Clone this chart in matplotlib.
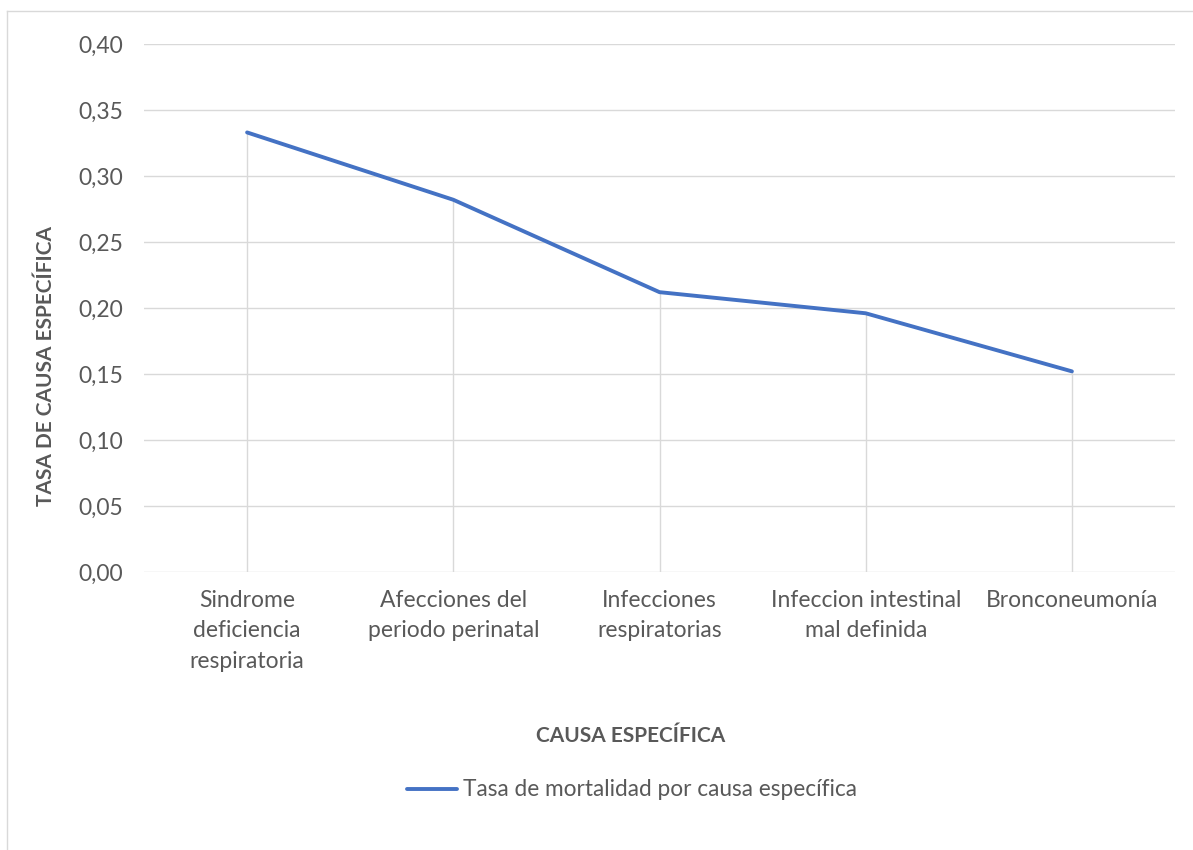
import matplotlib
matplotlib.use("Agg")
import matplotlib.pyplot as plt
from matplotlib.lines import Line2D

categories = ["Sindrome\ndeficiencia\nrespiratoria", "Afecciones del\nperiodo perinatal",
              "Infecciones\nrespiratorias", "Infeccion intestinal\nmal definida", "Bronconeumonía"]
values = [0.333, 0.282, 0.212, 0.196, 0.152]
yticks = [0.00, 0.05, 0.10, 0.15, 0.20, 0.25, 0.30, 0.35, 0.40]
series_name = "Tasa de mortalidad por causa específica"
xlabel = "CAUSA ESPECÍFICA"
ylabel = "TASA DE CAUSA ESPECÍFICA"

plt.rcParams['font.family'] = ['Lato', 'DejaVu Sans']
W, H = 1193, 850
fig = plt.figure(figsize=(W/100, H/100), dpi=100)
txt = '#595959'
grid = '#D9D9D9'
blue = '#4472C4'

ax = fig.add_axes([144/W, 1-572/H, (1175-144)/W, (572-44)/H])
x = list(range(len(categories)))
ax.set_xlim(-0.5, len(categories)-0.5)
ax.set_ylim(0, 0.40)
ax.set_yticks(yticks)
ax.set_yticklabels([f"{v:.2f}".replace('.', ',') for v in yticks])
for v in yticks:
    ax.axhline(v, color=grid, lw=1.0, zorder=1)
ax.vlines(x, 0, values, color=grid, lw=1.0, zorder=1)
ax.plot(x, values, color=blue, lw=2.8, solid_capstyle='round', zorder=3)
ax.set_xticks(x)
ax.set_xticklabels(categories, linespacing=1.55)
ax.tick_params(axis='both', length=0, colors=txt, labelsize=16.5)
ax.tick_params(axis='y', pad=15)
ax.tick_params(axis='x', pad=13)
for s in ax.spines.values():
    s.set_visible(False)

fig.text(46/W, 1-366/H, ylabel, rotation=90, ha='center', va='center',
         fontsize=15, fontweight='bold', color=txt)
fig.text(631/W, 1-736/H, xlabel, ha='center', va='center',
         fontsize=15, fontweight='bold', color=txt)

# legend
fig.add_artist(Line2D([407/W, 457/W], [1-789/H, 1-789/H], color=blue, lw=2.8,
                      solid_capstyle='round'))
fig.text(463/W, 1-789/H, series_name, ha='left', va='center', fontsize=16.3, color=txt)

# chart frame (top and left edges visible)
fig.add_artist(Line2D([7/W, 1.0], [1-11/H, 1-11/H], color=grid, lw=1.0))
fig.add_artist(Line2D([7/W, 7/W], [0, 1-11/H], color=grid, lw=1.0))

fig.savefig("out.png", dpi=100, facecolor='white')
